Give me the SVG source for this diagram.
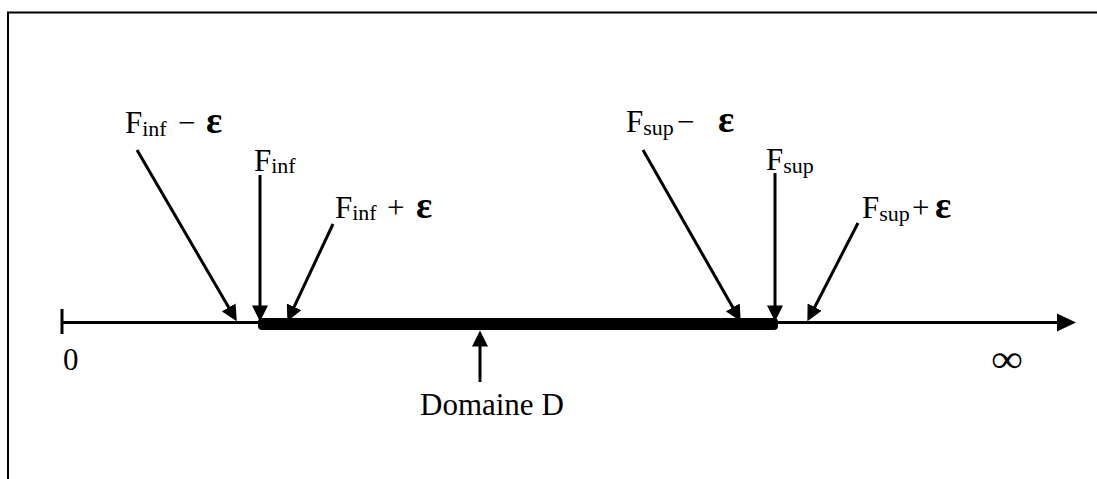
<svg xmlns="http://www.w3.org/2000/svg" width="1097" height="479" viewBox="0 0 1097 479">
<style>
text{font-family:"Liberation Serif","Times New Roman",serif;fill:#000;font-size:31px}
.sub{font-size:22px}
.eps{font-weight:bold;font-size:38px}
.arr{stroke:#000;stroke-width:3;fill:none;marker-end:url(#ah)}
.frame{stroke:#000;stroke-width:2;fill:none}
</style>
<defs>
<marker id="ah" markerUnits="userSpaceOnUse" markerWidth="16" markerHeight="16" viewBox="0 0 15 15" refX="8" refY="7.5" orient="auto">
<path d="M0,0 L15,7.5 L0,15 Z" fill="#000"/>
</marker>
</defs>
<rect width="1097" height="479" fill="#fff"/>
<path class="frame" d="M8,479 V12.5 H1097"/>
<g id="axis">
<line x1="62" y1="322.5" x2="1060" y2="322.5" stroke="#000" stroke-width="3"/>
<line x1="62" y1="309" x2="62" y2="334" stroke="#000" stroke-width="3"/>
<path d="M1076,322.5 L1057,313.5 L1057,331.5 Z" fill="#000"/>
<rect x="258" y="318" width="520" height="12" rx="4" fill="#000"/>
<text x="63" y="370" font-size="30">0</text>
<text transform="translate(991,372) scale(1.45,1.25)" font-size="37">∞</text>
</g>
<g id="connectors">
<line class="arr" x1="137" y1="150" x2="233" y2="314.8"/>
<line class="arr" x1="260" y1="175" x2="260" y2="314"/>
<line class="arr" x1="333" y1="224" x2="290.5" y2="314.6"/>
<line class="arr" x1="643" y1="150" x2="737" y2="314.8"/>
<line class="arr" x1="775" y1="173" x2="775" y2="314"/>
<line class="arr" x1="858" y1="223" x2="810.8" y2="314.7"/>
<line class="arr" x1="480" y1="382" x2="480" y2="338"/>
</g>
<g id="finf-minus">
<text x="125" y="133">F<tspan class="sub" dy="3">inf</tspan><tspan x="178" dy="-3">−</tspan><tspan class="eps" x="206">ε</tspan></text>
</g>
<g id="finf">
<text x="254" y="171">F<tspan class="sub" dy="2">inf</tspan></text>
</g>
<g id="finf-plus">
<text x="335" y="218">F<tspan class="sub" dy="2">inf</tspan><tspan x="387" dy="-2">+</tspan><tspan class="eps" x="416">ε</tspan></text>
</g>
<g id="fsup-minus">
<text x="626" y="132">F<tspan class="sub" dy="3">sup</tspan><tspan x="677" dy="-3">−</tspan><tspan class="eps" x="718">ε</tspan></text>
</g>
<g id="fsup">
<text x="766" y="170">F<tspan class="sub" dy="3">sup</tspan></text>
</g>
<g id="fsup-plus">
<text x="862" y="218">F<tspan class="sub" dy="3">sup</tspan><tspan x="912" dy="-3">+</tspan><tspan class="eps" x="935">ε</tspan></text>
</g>
<g id="domaine">
<text x="420" y="415" font-size="32">Domaine D</text>
</g>
</svg>
